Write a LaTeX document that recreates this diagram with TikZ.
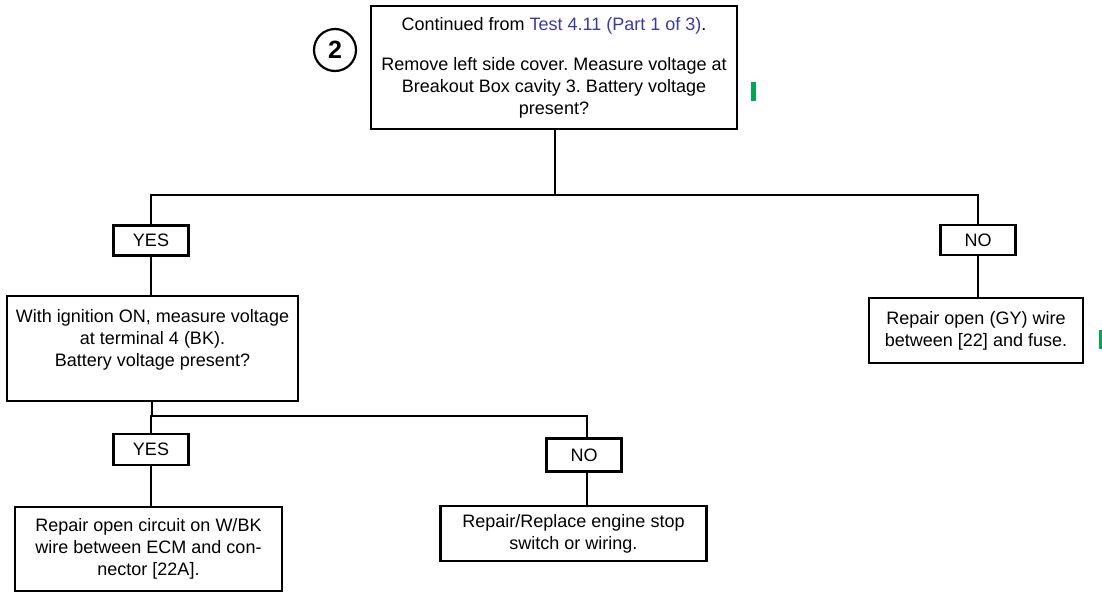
\documentclass[tikz,border=0pt]{standalone}
\usepackage{fontspec}
\setmainfont{Liberation Sans}
\definecolor{linkblue}{RGB}{58,58,165}
\definecolor{markgreen}{RGB}{0,166,81}
\begin{document}
\frenchspacing
\begin{tikzpicture}[x=1pt,y=-1pt,line width=2.2pt,
  box/.style={draw,rectangle,align=center,inner sep=0pt,
    font=\fontsize{18}{22}\selectfont},
  tag/.style={draw,rectangle,align=center,inner sep=0pt,
    minimum width=75pt,minimum height=30pt,font=\fontsize{18}{20}\selectfont},
  link/.style={line width=2.2pt},
  bar/.style={fill=markgreen,draw=none}]
\useasboundingbox (0,0) rectangle (1102,592);

% step number
\node[draw,circle,minimum size=42pt,inner sep=0pt,line width=2.2pt,
  font=\fontsize{25}{26}\selectfont\bfseries] (stepno) at (335,50) {2};

% first question
\node[box,minimum width=366pt,minimum height=123pt] (q1) at (554,67.5)
  {Continued from \textcolor{linkblue}{Test 4.11 (Part 1 of 3)}.\\[18pt]
   Remove left side cover. Measure voltage at\\
   Breakout Box cavity 3. Battery voltage\\
   present?};

\node[tag] (yes1) at (151,240.5) {YES};
\node[tag] (no1) at (978,240) {NO};

% second question
\node[box,minimum width=291pt,minimum height=105pt] (q2) at (152.5,348.5)
  {With ignition ON, measure voltage\\
   at terminal 4 (BK).\\
   Battery voltage present?\\ \mbox{}};

\node[box,minimum width=214pt,minimum height=65pt] (fixgy) at (976,330.5)
  {Repair open (GY) wire\\ between [22] and fuse.};

\node[tag,minimum height=31pt] (yes2) at (151,449.5) {YES};
\node[tag,minimum height=33pt] (no2) at (584,455) {NO};

\node[box,minimum width=267pt,minimum height=84pt] (fixwbk) at (148.5,549)
  {Repair open circuit on W/BK\\
   wire between ECM and con-\\
   nector [22A].};

\node[box,minimum width=266pt,minimum height=55pt] (fixstop) at (573.5,533.5)
  {Repair/Replace engine stop\\ switch or wiring.};

% branch points
\coordinate (split1) at (555,195);
\coordinate (split2) at (152,416);

% connectors
\draw[link] (q1.south -| split1) -- (split1);
\draw[link] (split1) -| (yes1.north);
\draw[link] (split1) -| (no1.north);
\draw[link] (yes1.south) -- (yes1.south |- q2.north);
\draw[link] (no1.south) -- (no1.south |- fixgy.north);
\draw[link] (q2.south -| split2) -- (split2);
\draw[link] (split2) -| (yes2.north);
\draw[link] (split2) -| ([xshift=3pt]no2.north);
\draw[link] (yes2.south) -- (yes2.south |- fixwbk.north);
\draw[link] ([xshift=3pt]no2.south) -- ([xshift=3pt]no2.south |- fixstop.north);

% change bars
\fill[bar] (751,82) rectangle (756,101);
\fill[bar] (1099,330) rectangle (1102,349);
\end{tikzpicture}
\end{document}
